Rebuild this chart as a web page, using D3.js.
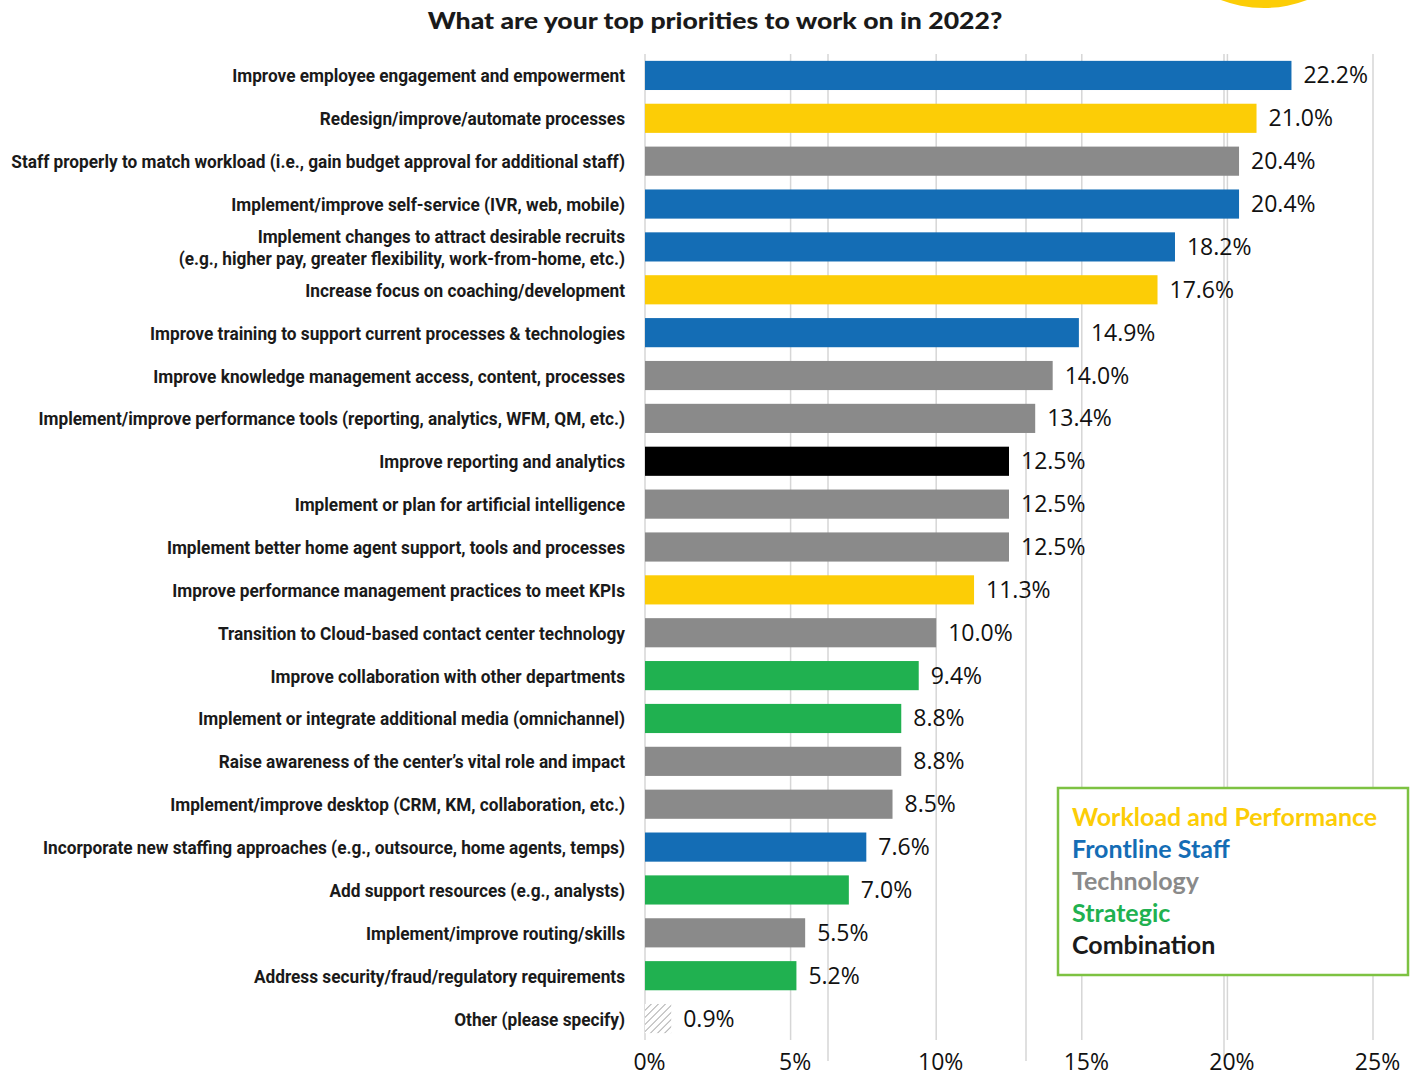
<!DOCTYPE html>
<html>
<head>
<meta charset="utf-8">
<script src="https://cdn.jsdelivr.net/npm/d3@7"></script>
<style>
  body { margin: 0; background: #fff; }
  svg { display: block; }
</style>
</head>
<body>
<div id="chart"></div>
<script>
const categories = [
  'Improve employee engagement and empowerment',
  'Redesign/improve/automate processes',
  'Staff properly to match workload (i.e., gain budget approval for additional staff)',
  'Implement/improve self-service (IVR, web, mobile)',
  'Implement changes to attract desirable recruits|(e.g., higher pay, greater flexibility, work-from-home, etc.)',
  'Increase focus on coaching/development',
  'Improve training to support current processes & technologies',
  'Improve knowledge management access, content, processes',
  'Implement/improve performance tools (reporting, analytics, WFM, QM, etc.)',
  'Improve reporting and analytics',
  'Implement or plan for artificial intelligence',
  'Implement better home agent support, tools and processes',
  'Improve performance management practices to meet KPIs',
  'Transition to Cloud-based contact center technology',
  'Improve collaboration with other departments',
  'Implement or integrate additional media (omnichannel)',
  'Raise awareness of the center\u2019s vital role and impact',
  'Implement/improve desktop (CRM, KM, collaboration, etc.)',
  'Incorporate new staffing approaches (e.g., outsource, home agents, temps)',
  'Add support resources (e.g., analysts)',
  'Implement/improve routing/skills',
  'Address security/fraud/regulatory requirements',
  'Other (please specify)'
];
const values = [22.2, 21.0, 20.4, 20.4, 18.2, 17.6, 14.9, 14.0, 13.4, 12.5, 12.5, 12.5,
  11.3, 10.0, 9.4, 8.8, 8.8, 8.5, 7.6, 7.0, 5.5, 5.2, 0.9];
const groups = ['Frontline Staff', 'Workload and Performance', 'Technology', 'Frontline Staff',
  'Frontline Staff', 'Workload and Performance', 'Frontline Staff', 'Technology', 'Technology',
  'Combination', 'Technology', 'Technology', 'Workload and Performance', 'Technology',
  'Strategic', 'Strategic', 'Technology', 'Technology', 'Frontline Staff', 'Strategic',
  'Technology', 'Strategic', 'Other'];
const legendNames = ['Workload and Performance', 'Frontline Staff', 'Technology', 'Strategic', 'Combination'];
const xTicks = [0, 5, 10, 15, 20, 25];
const extraGrid = [10, 20, 30];

const width = 1415, height = 1076;
const colour = d3.scaleOrdinal()
  .domain(['Workload and Performance', 'Frontline Staff', 'Technology', 'Strategic', 'Combination', 'Other'])
  .range(['#fccd06', '#146db5', '#8a8a8a', '#20b150', '#000000', 'url(#hatch)']);
const legendColour = d3.scaleOrdinal()
  .domain(legendNames)
  .range(['#fccd06', '#146db5', '#8a8a8a', '#20b150', '#1a1a1a']);

const svg = d3.select('#chart').append('svg')
  .attr('width', width)
  .attr('height', height);

const defs = svg.append('defs');
const hatch = defs.append('pattern')
  .attr('id', 'hatch')
  .attr('patternUnits', 'userSpaceOnUse')
  .attr('width', 5).attr('height', 5)
  .attr('patternTransform', 'rotate(45)');
hatch.append('rect').attr('width', 5).attr('height', 5).attr('fill', '#fff');
hatch.append('line').attr('x1', 0).attr('y1', 0).attr('x2', 0).attr('y2', 5)
  .attr('stroke', '#9a9a9a').attr('stroke-width', 1.6);

const x = d3.scaleLinear().domain([0, 25]).range([645, 1373]);
const y = d3.scaleBand().domain(categories).range([54, 1040]).paddingInner(0.32).paddingOuter(0.16);
// stray grid lines from a second layer in the original artwork
const xGhost = d3.scaleLinear().domain([0, 30]).range([630, 1224]);

// squeeze a text horizontally so it spans targetW px, anchored at ax
function fitWidth(sel, targetW, ax) {
  const w = sel.node().getBBox().width;
  const f = targetW / w;
  sel.attr('transform', `translate(${ax},0) scale(${f},1) translate(${-ax},0)`);
}

// decorative yellow disc peeking in at the top right
svg.append('circle')
  .attr('cx', 1264).attr('cy', -112).attr('r', 120)
  .attr('fill', '#fccd06');

svg.append('g').selectAll('line')
  .data(extraGrid).enter().append('line')
  .attr('x1', d => xGhost(d)).attr('x2', d => xGhost(d))
  .attr('y1', 54).attr('y2', 1061)
  .attr('stroke', '#d6d6d6').attr('stroke-width', 1.5);

svg.append('g').selectAll('line')
  .data(xTicks).enter().append('line')
  .attr('x1', d => x(d)).attr('x2', d => x(d))
  .attr('y1', 54).attr('y2', 1040)
  .attr('stroke', '#d6d6d6').attr('stroke-width', 1.5);

const title = svg.append('text')
  .attr('x', 715).attr('y', 29)
  .attr('text-anchor', 'middle')
  .style('font-family', 'Lato, "Open Sans", sans-serif')
  .style('font-weight', 900)
  .style('font-size', '23px')
  .attr('fill', '#1a1a1a')
  .text('What are your top priorities to work on in 2022?');
fitWidth(title, 575, 715);

svg.append('g').selectAll('rect')
  .data(categories).enter().append('rect')
  .attr('x', x(0))
  .attr('y', d => y(d))
  .attr('width', (d, i) => x(values[i]) - x(0))
  .attr('height', y.bandwidth())
  .attr('fill', (d, i) => colour(groups[i]));

svg.append('g').selectAll('text')
  .data(categories).enter().append('text')
  .attr('x', (d, i) => x(values[i]) + 12)
  .attr('y', d => y(d) + y.bandwidth() / 2 + 8)
  .style('font-family', '"Open Sans", sans-serif')
  .style('font-size', '23px')
  .attr('fill', '#111')
  .text((d, i) => values[i].toFixed(1) + '%');

const labelG = svg.append('g');
const labels = labelG.selectAll('text')
  .data(categories).enter().append('text')
  .attr('text-anchor', 'end')
  .attr('x', 625)
  .attr('y', d => y(d) + y.bandwidth() / 2 + 7)
  .style('font-family', 'Roboto, sans-serif')
  .style('font-weight', 'bold')
  .style('font-size', '19px')
  .attr('fill', '#1a1a1a');

labels.each(function(d) {
  const parts = d.split('|');
  const t = d3.select(this);
  if (parts.length === 1) {
    t.text(d);
  } else {
    t.append('tspan').attr('x', 625).attr('dy', -11).text(parts[0]);
    t.append('tspan').attr('x', 625).attr('dy', 22).text(parts[1]);
  }
});
// the original labels use a condensed face; squeeze so the longest one starts at x=10
fitWidth(labelG, 615, 625);

const axis = d3.axisBottom(x)
  .tickValues(xTicks)
  .tickFormat(d => d + '%')
  .tickSize(0)
  .tickPadding(0);
const axisG = svg.append('g')
  .attr('transform', 'translate(4,1054)')
  .call(axis);
axisG.select('.domain').remove();
axisG.selectAll('text')
  .style('font-family', '"Open Sans", sans-serif')
  .style('font-size', '23px')
  .attr('fill', '#111');

const legend = svg.append('g');
legend.append('rect')
  .attr('x', 1058).attr('y', 788)
  .attr('width', 350).attr('height', 187)
  .attr('fill', '#fff')
  .attr('stroke', '#7dc242')
  .attr('stroke-width', 2.5);
legend.selectAll('text')
  .data(legendNames).enter().append('text')
  .attr('x', 1072)
  .attr('y', (d, i) => 826 + i * 32)
  .style('font-family', 'Lato, sans-serif')
  .style('font-weight', 700)
  .style('font-size', '25px')
  .attr('fill', d => legendColour(d))
  .text(d => d);
</script>
</body>
</html>
